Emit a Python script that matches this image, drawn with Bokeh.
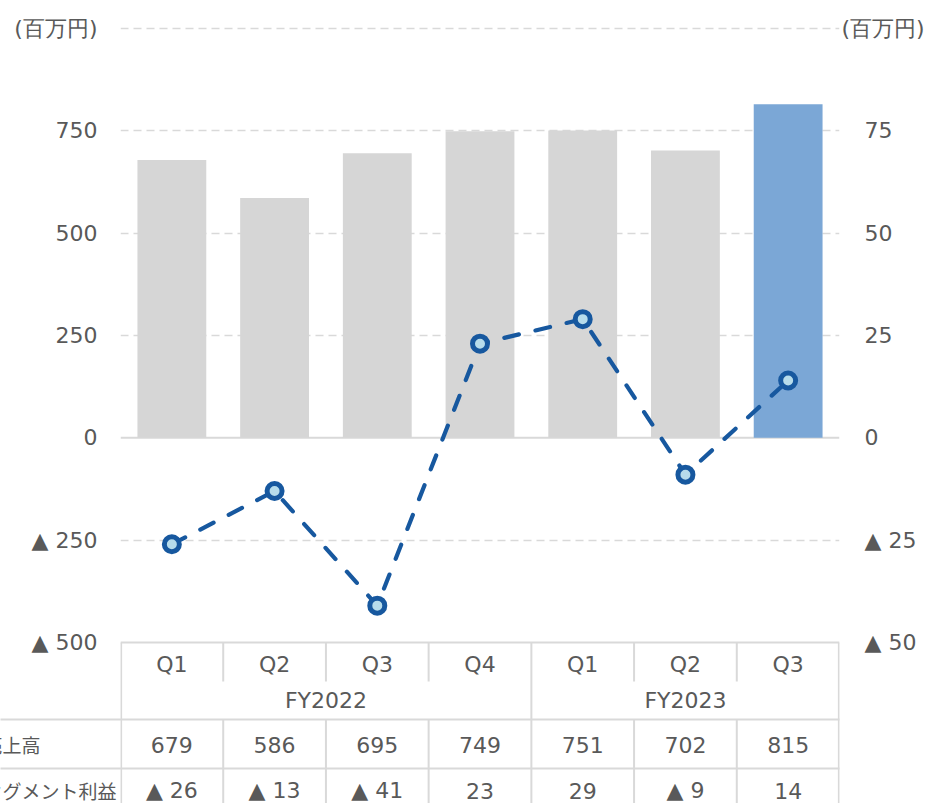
from bokeh.plotting import figure
from bokeh.models import Range1d, LinearAxis, FixedTicker, Span, Grid
from bokeh.embed import file_html
from bokeh.resources import INLINE
from bokeh.core.properties import value

# ---------------- data ----------------
quarters = ["Q1", "Q2", "Q3", "Q4", "Q1", "Q2", "Q3"]
fiscal_years = ["FY2022", "FY2023"]
fy_quarter_count = [4, 3]
sales = [679, 586, 695, 749, 751, 702, 815]          # 売上高 (百万円)
profit = [-26, -13, -41, 23, 29, -9, 14]             # セグメント利益 (百万円)
row_headers = ["売上高", "セグメント利益"]
left_ticks = [-500, -250, 0, 250, 500, 750, 1000]
right_ticks = [-50, -25, 0, 25, 50, 75]
unit_label = "(百万円)"

# ---------------- layout constants ----------------
W, H = 926, 803
FL, FR = 120, 839                  # frame left / right (canvas px)
Y500 = 642                         # canvas y of the -500 line
PX = 1500 / 614                    # left-axis units per pixel
Y_TOP = 1000 + 3 * PX
FT = 25
Y_BOT = -500 - (H - Y500) * PX
N = len(quarters)
XPX = N / (FR - FL)                # x units per pixel

TXT = "#595959"
GRID = "#D9D9D9"
FONT = "DejaVu Sans"
FS = "22px"

# table row geometry (pixels below the -500 line)
ROW_Q, SEP_Q_END, ROW_FY, LINE_1, ROW_SALES, LINE_2, ROW_PROFIT = 22, 39, 58, 77, 102, 126, 148


def ty(px_below):
    """y position (left units) a number of pixels below the -500 line."""
    return -500 - px_below * PX


def fmt(v):
    return f"▲ {abs(v)}" if v < 0 else str(v)


p = figure(width=W, height=H, x_range=Range1d(0, N), y_range=Range1d(Y_BOT, Y_TOP),
           output_backend="svg", toolbar_location=None,
           x_axis_location=None, y_axis_location=None,
           min_border_left=FL, min_border_right=W - FR, min_border_top=FT,
           min_border_bottom=0, outline_line_color=None,
           background_fill_color="white", border_fill_color="white")
for g in p.grid:
    g.visible = False
p.extra_y_ranges = {"right": Range1d(Y_BOT / 10, Y_TOP / 10)}


def style_axis(ax, standoff):
    ax.axis_line_color = None
    ax.major_tick_line_color = None
    ax.minor_tick_line_color = None
    ax.major_label_standoff = standoff
    ax.major_label_text_font = FONT
    ax.major_label_text_font_size = FS
    ax.major_label_text_color = TXT


lax = LinearAxis(ticker=FixedTicker(ticks=left_ticks),
                 major_label_overrides={t: (unit_label if t == 1000 else fmt(t)) for t in left_ticks})
style_axis(lax, 17)
p.add_layout(lax, "left")

rax = LinearAxis(y_range_name="right", ticker=FixedTicker(ticks=right_ticks),
                 major_label_overrides={t: fmt(t) for t in right_ticks})
style_axis(rax, 19)
p.add_layout(rax, "right")

# grid
grid = Grid(dimension=1, ticker=FixedTicker(ticks=[t for t in left_ticks if t not in (0, -500)]),
            grid_line_color=GRID, grid_line_dash="8 5", grid_line_width=1.6)
p.add_layout(grid)
p.add_layout(Span(location=0, dimension="width", line_color=GRID, line_width=2, level="underlay"))
p.add_layout(Span(location=-500, dimension="width", line_color=GRID, line_width=2, level="underlay"))

# bars
xs = [i + 0.5 for i in range(N)]
bar_colors = ["#D6D6D6"] * (N - 1) + ["#7BA7D6"]
p.vbar(x=xs, top=sales, bottom=0, width=0.67, fill_color=bar_colors, line_color=None)

# profit line
p.line(xs, profit, y_range_name="right", line_color="#17589F", line_width=4.2,
       line_dash="15 17", line_cap="round")
p.scatter(xs, profit, y_range_name="right", size=15, fill_color="#B7DCEB",
          line_color="#17589F", line_width=5)

# right-hand unit label (drawn unclipped)
p.text([N], [1000 / 10], text=[unit_label], y_range_name="right", x_offset=2,
       text_align="left", text_baseline="middle", text_font=value(FONT),
       text_font_size=FS, text_color=TXT, level="overlay")

# ---------------- table ----------------
fy_bounds = []
c = 0
for n in fy_quarter_count:
    fy_bounds.append((c, c + n))
    c += n
fy_inner = [b[1] for b in fy_bounds[:-1]]
q_seps = [i for i in range(1, N) if i not in fy_inner]

x0s, y0s, x1s, y1s = [], [], [], []


def seg(a, b, c_, d):
    x0s.append(a); y0s.append(b); x1s.append(c_); y1s.append(d)


seg(0.006, -500, 0.006, Y_BOT)
seg(N - 0.006, -500, N - 0.006, Y_BOT)
for s in q_seps:
    seg(s, -500, s, ty(SEP_Q_END))
    seg(s, ty(LINE_1), s, Y_BOT)
for s in fy_inner:
    seg(s, -500, s, Y_BOT)
p.segment(x0s, y0s, x1s, y1s, line_color=GRID, line_width=2)

x_canvas_left = -FL * XPX
hy = [ty(LINE_1), ty(LINE_2)]
p.segment([x_canvas_left] * 2, hy, [N] * 2, hy, line_color=GRID, line_width=2, level="overlay")

txt_kw = dict(text_align="center", text_baseline="middle", text_font=value(FONT),
              text_font_size=FS, text_color=TXT)
p.text(xs, [ty(ROW_Q)] * N, text=quarters, **txt_kw)
p.text([(a + b) / 2 for a, b in fy_bounds], [ty(ROW_FY)] * len(fiscal_years), text=fiscal_years, **txt_kw)
p.text(xs, [ty(ROW_SALES)] * N, text=[fmt(v) for v in sales], **txt_kw)
p.text(xs, [ty(ROW_PROFIT)] * N, text=[fmt(v) for v in profit], **txt_kw)

p.text([(-17 - FL) * XPX] * 2, [ty(ROW_SALES), ty(ROW_PROFIT)], text=row_headers,
       text_align="left", text_baseline="middle", text_font=value("Noto Sans CJK JP"),
       text_font_size="19px", text_color=TXT, level="overlay")

with open("out.html", "w", encoding="utf-8") as f:
    f.write(file_html(p, INLINE))
